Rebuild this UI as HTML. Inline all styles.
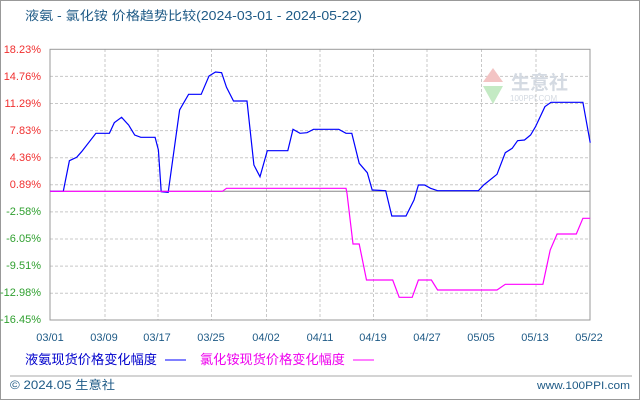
<!DOCTYPE html>
<html><head><meta charset="utf-8"><style>
body{margin:0;background:#fff;}
svg text{font-family:"Liberation Sans","Noto Sans CJK SC",sans-serif;}
</style></head><body>
<svg width="640" height="400" xmlns="http://www.w3.org/2000/svg">
<rect x="0.5" y="0.5" width="639" height="399" fill="#fff" stroke="#999"/>
<text x="25" y="20" font-size="12.5" fill="#1e5a86" textLength="337" lengthAdjust="spacingAndGlyphs">液氨 - 氯化铵 价格趋势比较(2024-03-01 - 2024-05-22)</text>
<g stroke="#c8c8c8" stroke-dasharray="3,2" stroke-width="1">
<line x1="50" y1="76.4" x2="590" y2="76.4"/><line x1="50" y1="103.5" x2="590" y2="103.5"/><line x1="50" y1="130.6" x2="590" y2="130.6"/><line x1="50" y1="157.7" x2="590" y2="157.7"/><line x1="50" y1="184.8" x2="590" y2="184.8"/><line x1="50" y1="211.9" x2="590" y2="211.9"/><line x1="50" y1="239" x2="590" y2="239"/><line x1="50" y1="266.1" x2="590" y2="266.1"/><line x1="50" y1="293.2" x2="590" y2="293.2"/>
<line x1="105" y1="49" x2="105" y2="320"/><line x1="158" y1="49" x2="158" y2="320"/><line x1="211.5" y1="49" x2="211.5" y2="320"/><line x1="266.5" y1="49" x2="266.5" y2="320"/><line x1="320" y1="49" x2="320" y2="320"/><line x1="373.5" y1="49" x2="373.5" y2="320"/><line x1="427" y1="49" x2="427" y2="320"/><line x1="481.5" y1="49" x2="481.5" y2="320"/><line x1="536" y1="49" x2="536" y2="320"/>
</g>
<rect x="50" y="49.3" width="540" height="270.7" fill="none" stroke="#999"/>
<line x1="50" y1="191.3" x2="590" y2="191.3" stroke="#888"/>
<g font-size="11" text-anchor="end">
<text x="41" y="53" fill="#f03030">18.23%</text><text x="41" y="80" fill="#f03030">14.76%</text><text x="41" y="107" fill="#f03030">11.29%</text><text x="41" y="134" fill="#f03030">7.83%</text><text x="41" y="161" fill="#f03030">4.36%</text><text x="41" y="188" fill="#f03030">0.89%</text>
<text x="41" y="215" fill="#30a030">-2.58%</text><text x="41" y="242" fill="#30a030">-6.05%</text><text x="41" y="269" fill="#30a030">-9.51%</text><text x="41" y="296" fill="#30a030">-12.98%</text><text x="41" y="323" fill="#30a030">-16.45%</text>
</g>
<g font-size="11" text-anchor="middle" fill="#1e5a86">
<text x="50" y="341">03/01</text><text x="104" y="341">03/09</text><text x="157" y="341">03/17</text><text x="211" y="341">03/25</text><text x="266" y="341">04/02</text><text x="320" y="341">04/11</text><text x="373" y="341">04/19</text><text x="427" y="341">04/27</text><text x="481" y="341">05/05</text><text x="535" y="341">05/13</text><text x="589" y="341">05/22</text>
</g>
<text x="511" y="89" font-size="19" fill="#d4dae2" font-weight="bold">生意社</text>
<text x="510" y="101" font-size="8" fill="#d4dae2">100PPI.COM</text>
<polygon points="493,68 483,82 503,82" fill="#f3c4c4"/><polygon points="483,86 503,86 493,104" fill="#c4eac4"/>
<polyline fill="none" stroke="#0000ff" stroke-width="1.2" points="50,191.3 63.3,191.3 69.4,160.7 76.7,157.3 81.6,151.7 95.9,133.3 109.4,133.3 114.3,122.7 121.6,117.3 128.6,125 134.7,135 140.8,137.3 155.1,137.3 158.4,150 161.2,191.7 168.2,192.3 179.6,110 188.6,94.3 201.2,94.3 209,76 215.5,72 221.6,72.7 226.5,87.3 233.5,101 247,101 253.9,165 260,176.7 267.3,150.7 287.8,150.7 293,129.3 300,133.3 307,132.7 313.5,129.3 338.8,129.3 346,133.3 351.8,133.3 359.2,163.3 367.3,172.7 372.2,190 385.7,190.7 391.8,216 406,216 414,200 418.4,185 424.5,185 430.6,188.3 437.6,190.7 478.4,190.7 483.7,185 497,174.3 505.3,152.7 512.2,148.3 517.6,140.7 524.5,140 530.6,135 535.5,126.7 544.9,106.7 551,102.3 582.9,102.3 590.2,142.7"/>
<polyline fill="none" stroke="#ff00ff" stroke-width="1.2" points="50,191.3 222.4,191.3 226.5,188.3 346,188.3 347,193.3 353,244 359.2,244 366.5,280 392.7,280 399.2,297.3 412.2,297.3 418.4,280 431.4,280 437.6,290 497,290 505.3,284.3 542.9,284.3 550.2,250 557.1,234 576.3,234 582.9,218.3 590.2,218.3"/>
<text x="25" y="364" font-size="13" fill="#0000cc" textLength="132" lengthAdjust="spacingAndGlyphs">液氨现货价格变化幅度</text>
<line x1="165" y1="360" x2="186" y2="360" stroke="#0000ff"/>
<text x="200" y="364" font-size="13" fill="#ee00ee" textLength="145" lengthAdjust="spacingAndGlyphs">氯化铵现货价格变化幅度</text>
<line x1="353" y1="360" x2="374" y2="360" stroke="#ff00ff"/>
<line x1="10" y1="376" x2="632" y2="376" stroke="#aaa"/>
<text x="10" y="389" font-size="12" fill="#1e5a86" textLength="105" lengthAdjust="spacingAndGlyphs">© 2024.05 生意社</text>
<text x="630" y="389" font-size="11" fill="#1e5a86" text-anchor="end" textLength="93" lengthAdjust="spacingAndGlyphs">www.100PPI.com</text>
</svg>
</body></html>
